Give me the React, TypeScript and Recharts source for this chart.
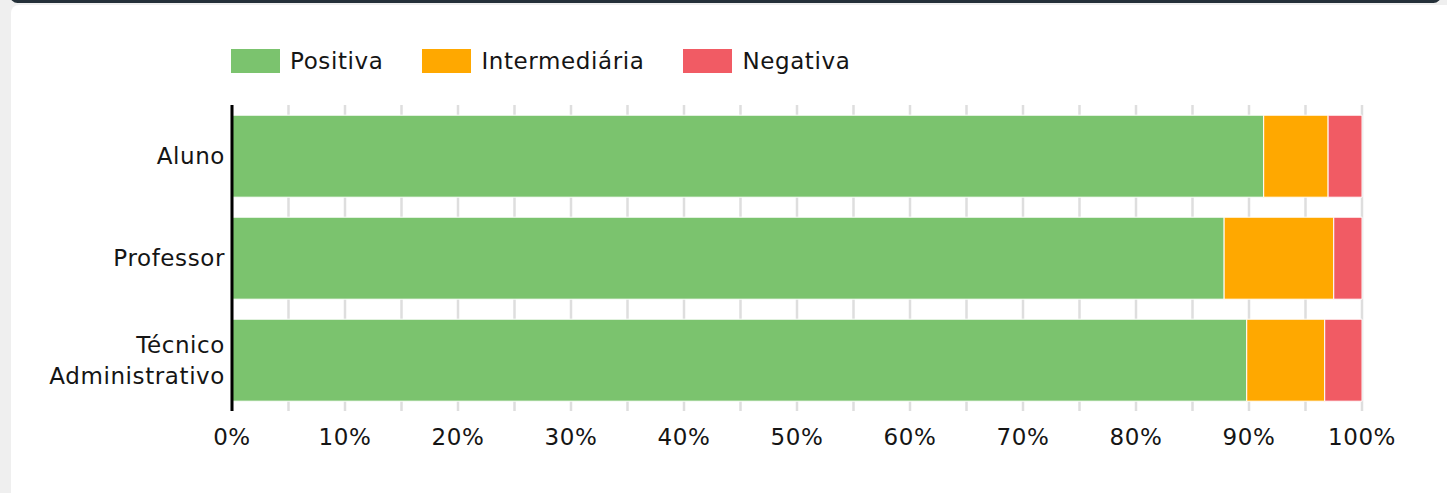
import React from 'react';
import { BarChart, Bar, XAxis, YAxis, CartesianGrid, Legend } from 'recharts';

const categories = ['Aluno', 'Professor', 'Técnico Administrativo'];
const positiva = [91.3, 87.8, 89.8];
const intermediaria = [5.7, 9.7, 6.9];
const negativa = [3.0, 2.5, 3.3];
const xTicks = [0, 5, 10, 15, 20, 25, 30, 35, 40, 45, 50, 55, 60, 65, 70, 75, 80, 85, 90, 95, 100];

const seriesKeys = ['positiva', 'intermediaria', 'negativa'];
const seriesNames: Record<string, string> = { positiva: 'Positiva', intermediaria: 'Intermediária', negativa: 'Negativa' };
const colors: Record<string, string> = { positiva: '#7bc36e', intermediaria: '#ffa800', negativa: '#f15b64' };

const data = categories.map((name, i) => ({
  name,
  positiva: positiva[i],
  intermediaria: intermediaria[i],
  negativa: negativa[i],
}));

const FONT = '"DejaVu Sans", sans-serif';
const TEXT = '#151515';
const FS = 23;
const LS = '0.6px';

const YTick = (props: any) => {
  const { x, y, payload } = props;
  const lines: string[] = String(payload.value).split(' ');
  const lh = 31;
  const start = -((lines.length - 1) * lh) / 2;
  return (
    <text x={x} y={y} textAnchor="end" fill={TEXT} fontSize={FS} fontFamily={FONT} style={{ letterSpacing: LS }}>
      {lines.map((l, i) => (
        <tspan key={i} x={x} dy={i === 0 ? start + FS * 0.36 : lh}>
          {l}
        </tspan>
      ))}
    </text>
  );
};

const LegendContent = (props: any) => {
  const payload: any[] = [...(props.payload || [])];
  payload.sort((a, b) => seriesKeys.indexOf(a.dataKey) - seriesKeys.indexOf(b.dataKey));
  return (
    <div style={{ display: 'flex', alignItems: 'center', height: 24, gap: 39 }}>
      {payload.map((p: any, i: number) => (
        <div key={i} style={{ display: 'flex', alignItems: 'center', height: 24 }}>
          <div style={{ width: 49, height: 24, background: p.color, marginRight: 10 }} />
          <span style={{ fontFamily: FONT, fontSize: FS, color: TEXT, lineHeight: '24px', whiteSpace: 'nowrap', letterSpacing: LS }}>{p.value}</span>
        </div>
      ))}
    </div>
  );
};

export default function App() {
  return (
    <div style={{ position: 'fixed', left: 0, top: 0, width: 1447, height: 493, background: '#efefef', overflow: 'hidden' }}>
      <div style={{ position: 'absolute', left: 10, top: -12, width: 1431, height: 15, background: '#243039', borderRadius: 8 }} />
      <div style={{ position: 'absolute', left: 11, top: 5, width: 1450, height: 520, background: '#ffffff', borderRadius: 8 }} />
      <div style={{ position: 'absolute', left: 0, top: 0 }}>
        <BarChart
          width={1447}
          height={493}
          data={data}
          layout="vertical"
          margin={{ top: 81, right: 85, bottom: 52, left: 0 }}
          barCategoryGap="10%"
        >
          <CartesianGrid horizontal={false} vertical stroke="#dedede" strokeWidth={2.5} />
          <XAxis
            type="number"
            domain={[0, 100]}
            ticks={xTicks}
            interval={0}
            tickFormatter={(v: number) => (v % 10 === 0 ? `${v}%` : '')}
            axisLine={false}
            tickLine={false}
            tickSize={0}
            tickMargin={18}
            tick={{ fill: TEXT, fontSize: FS, fontFamily: FONT, style: { letterSpacing: LS } }}
          />
          <YAxis
            type="category"
            dataKey="name"
            width={232}
            axisLine={{ stroke: '#000', strokeWidth: 3 }}
            tickLine={false}
            tickSize={0}
            tickMargin={7}
            tick={<YTick />}
          />
          <Legend
            verticalAlign="top"
            align="left"
            content={<LegendContent />}
            wrapperStyle={{ top: 49, left: 231, width: 'auto' }}
          />
          {seriesKeys.map((k) => (
            <Bar key={k} dataKey={k} name={seriesNames[k]} stackId="a" fill={colors[k]} stroke="#fff" strokeWidth={1} isAnimationActive={false} />
          ))}
        </BarChart>
      </div>
    </div>
  );
}
